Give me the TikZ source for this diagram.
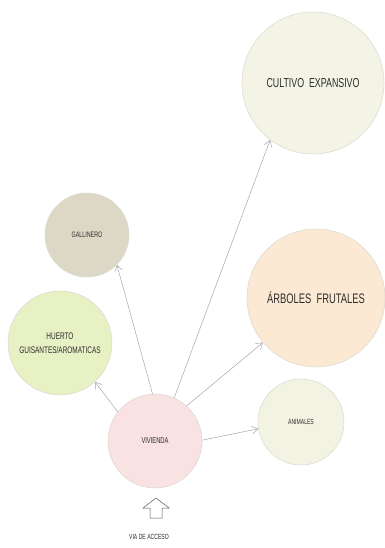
\documentclass[tikz,border=0pt]{standalone}
\usepackage{fontspec}
\newfontfamily\plano{Liberation Sans}[FakeStretch=0.68]
\usetikzlibrary{arrows.meta}
\definecolor{borde}{HTML}{D8D8CE}
\definecolor{texto}{HTML}{2C2C2C}
\definecolor{flecha}{HTML}{A6A6AA}
\definecolor{cultivo}{HTML}{F4F4E6}
\definecolor{gallinero}{HTML}{DDD8C6}
\definecolor{huerto}{HTML}{E8F1C4}
\definecolor{arboles}{HTML}{FCE9D4}
\definecolor{animales}{HTML}{F3F3E3}
\definecolor{vivienda}{HTML}{F9E2E2}
\tikzset{zona/.style={circle,draw=borde,line width=0.5pt,inner sep=0pt,text=texto,align=center},
flujo/.style={draw=flecha,line width=0.5pt,-{Straight Barb[length=6pt,width=8pt]}}}
\begin{document}
\begin{tikzpicture}[x=1pt,y=-1pt]
\useasboundingbox (0,0) rectangle (384,548);
% zonas
\node[zona,fill=cultivo,minimum size=142pt,font=\plano\fontsize{13}{16}\selectfont](cult)at(313,83){CULTIVO\ \ EXPANSIVO};
\node[zona,fill=gallinero,minimum size=84pt,font=\plano\fontsize{7.9}{9}\selectfont](gall)at(87,235){GALLINERO};
\node[zona,fill=huerto,minimum size=104pt,font=\plano\fontsize{9.5}{14}\selectfont](huer)at(60,343){HUERTO\\GUISANTES/AROMATICAS};
\node[zona,fill=arboles,minimum size=138pt,font=\plano\fontsize{13.8}{16}\selectfont](arb)at(316,298){ÁRBOLES\ \ FRUTALES};
\node[zona,fill=animales,minimum size=86pt,font=\plano\fontsize{7.5}{9}\selectfont](anim)at(301,422){ANIMALES};
\node[zona,fill=vivienda,minimum size=94pt,font=\plano\fontsize{8.5}{10}\selectfont](viv)at(155,441){VIVIENDA};
% relaciones
\draw[flujo](viv.66)--(cult.233);
\draw[flujo](viv.93)--(gall.315);
\draw[flujo](viv.142)--(huer.312);
\draw[flujo](viv.48)--(arb.220);
\draw[flujo](viv.1)--(anim.189);
% acceso
\draw[draw=texto!80,line width=0.5pt](143,508)--(156,498)--(169,508)--(162,508)--(162,518)--(150,518)--(150,508)--cycle;
\node[text=texto,font=\plano\fontsize{7.5}{9}\selectfont](acc)at(149,537){VIA\ DE\ ACCESO};
\end{tikzpicture}
\end{document}
